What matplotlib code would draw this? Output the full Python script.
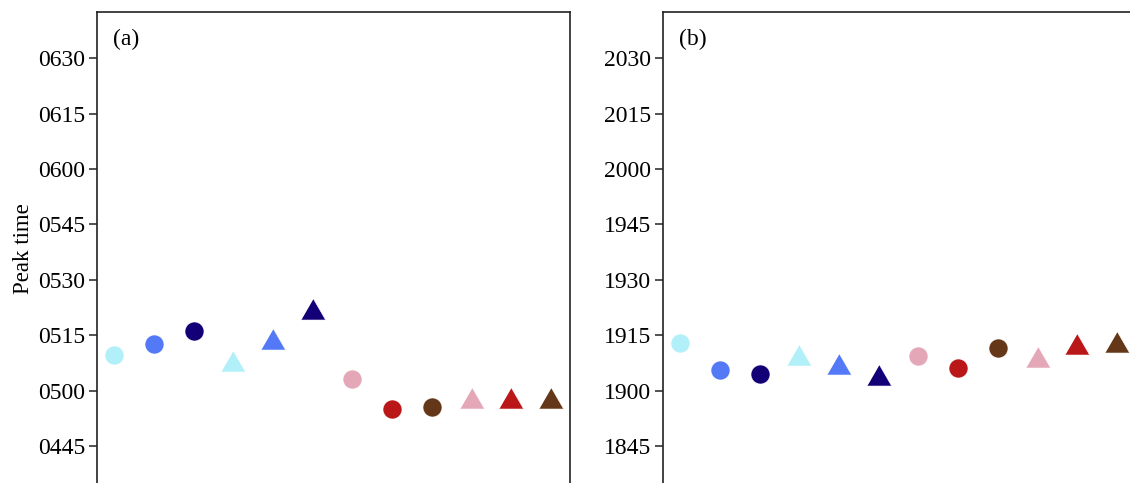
import numpy as np
import matplotlib
matplotlib.use("Agg")
import matplotlib.pyplot as plt
from matplotlib.ticker import FuncFormatter

# peak times, minutes after midnight
morning = [309.7, 312.7, 316.0, 307.9, 313.9, 322.2, 303.2, 294.9, 295.5, 298.1, 298.1, 298.1]
evening = [1152.8, 1145.6, 1144.4, 1149.6, 1147.2, 1144.2, 1149.3, 1146.1, 1151.6, 1149.0, 1152.6, 1153.2]
panel_labels = ["(a)", "(b)"]
ticks_a = np.arange(285, 391, 15)
ticks_b = np.arange(1125, 1231, 15)

colours = ["#b2f0f9", "#5479f7", "#130077", "#b2f0f9", "#5479f7", "#130077",
           "#e4a7b8", "#ba1719", "#643718", "#e4a7b8", "#ba1719", "#643718"]
shapes = ["o", "o", "o", "^", "^", "^", "o", "o", "o", "^", "^", "^"]

plt.rcParams['font.family'] = ['Liberation Serif', 'DejaVu Serif']
plt.rcParams['font.size'] = 17

tri = [(-1, -0.866), (1, -0.866), (0, 0.866)]

def hhmm(v, pos):
    v = int(round(v))
    return "%02d%02d" % (v // 60, v % 60)

# axes run from 12 px to just past the bottom edge
h_px = 474.0
span = h_px * 15 / 55.4
fig = plt.figure(figsize=(11.3, 4.83), dpi=100)
ax1 = fig.add_axes([97/1130, (483-12-h_px)/483, 473/1130, h_px/483])
ax2 = fig.add_axes([663/1130, (483-12-h_px)/483, 473/1130, h_px/483])

for ax, vals, ticks, lab, ytop in [(ax1, morning, ticks_a, panel_labels[0], 402.5),
                                   (ax2, evening, ticks_b, panel_labels[1], 1242.5)]:
    x = np.arange(1, len(vals) + 1)
    for xi, yi, c, m in zip(x, vals, colours, shapes):
        if m == "o":
            ax.plot(xi, yi, marker="o", ms=13.7, color=c, mec="white", mew=0.4, ls="none")
        else:
            ax.plot(xi, yi, marker=tri, ms=17.5, color=c, mec="white", mew=0.4, ls="none")
    ax.set_xlim(0.57, 12.48)
    ax.set_ylim(ytop - span, ytop)
    ax.set_yticks(ticks)
    ax.yaxis.set_major_formatter(FuncFormatter(hhmm))
    ax.set_xticks([])
    ax.tick_params(axis="y", direction="out", length=6, width=1.1, color="#222222", pad=2.5)
    for s in ax.spines.values():
        s.set_linewidth(1.2)
        s.set_color("#222222")
    ax.text(0.033, 0.943, lab, transform=ax.transAxes, va="center", ha="left", fontsize=17)

ax1.set_ylabel("Peak time", fontsize=16.5, labelpad=3)

fig.savefig("out.png", dpi=100)
